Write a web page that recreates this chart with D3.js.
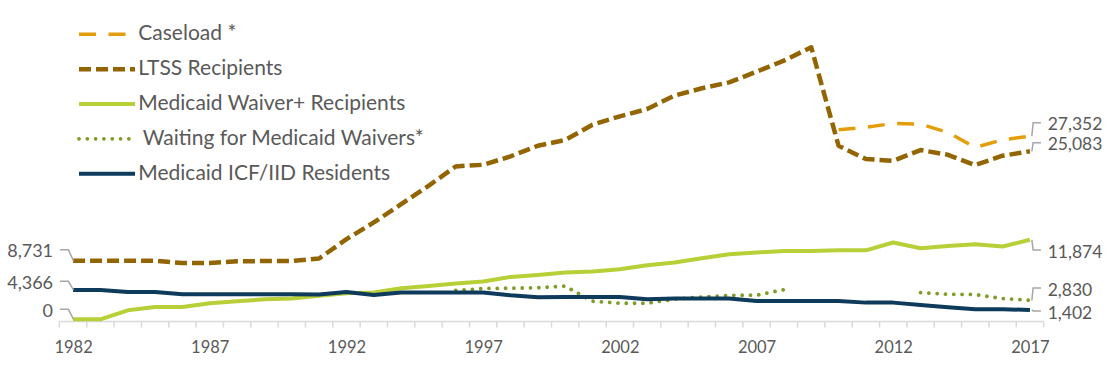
<!DOCTYPE html>
<html><head><meta charset="utf-8">
<script src="https://cdn.jsdelivr.net/npm/d3@7"></script>
<style>
body{margin:0;background:#fff}
svg{display:block}
text{font-family:Lato, "Open Sans", sans-serif; fill:#595959}
</style>
</head><body>
<svg id="c" width="1112" height="365"></svg>
<script>
// ---- data ----
const years = [1982,1983,1984,1985,1986,1987,1988,1989,1990,1991,1992,1993,1994,1995,1996,1997,1998,1999,2000,2001,2002,2003,2004,2005,2006,2007,2008,2009,2010,2011,2012,2013,2014,2015,2016,2017];
const tickYears = [1982,1987,1992,1997,2002,2007,2012,2017];
const caseload = [null,null,null,null,null,null,null,null,null,null,null,null,null,null,null,null,null,null,null,null,null,null,null,null,null,null,null,null,28300,28650,29250,29150,27900,25660,26800,27352];
const ltss = [8731,8731,8731,8731,8400,8400,8650,8700,8700,9075,11960,14460,17190,19930,22830,23070,24320,25910,26760,29050,30300,31400,33390,34490,35380,36970,38620,40620,25910,23920,23670,25270,24560,23020,24420,25083];
const waiver = [0,0,1345,1840,1840,2390,2690,2990,3090,3500,3890,3990,4630,4980,5330,5630,6330,6630,6980,7130,7475,8070,8470,9120,9720,9970,10210,10210,10300,10300,11460,10610,10960,11210,10860,11874];
const waiting = [null,null,null,null,null,null,null,null,null,null,null,null,null,null,4300,4590,4650,4700,4950,2700,2400,2400,3000,3330,3580,3600,4420,null,null,null,null,3990,3740,3700,3090,2830];
const icf = [4366,4366,4090,4090,3740,3740,3740,3740,3740,3690,4090,3640,3990,3990,3990,3990,3590,3290,3340,3340,3340,2990,3090,3090,3090,2740,2740,2740,2740,2490,2490,2140,1790,1490,1490,1402];
const seriesNames = ["Caseload *","LTSS Recipients","Medicaid Waiver+ Recipients","Waiting for Medicaid Waivers*","Medicaid ICF/IID Residents"];

// ---- styles ----
const series = [
  {name:seriesNames[0], values:caseload, color:"#E59E0B", width:3.5, dash:"17,12.5", cap:"butt", legendDx:0},
  {name:seriesNames[1], values:ltss, color:"#936500", width:4.5, dash:"12,5", cap:"butt", legendDx:0},
  {name:seriesNames[2], values:waiver, color:"#B8CF38", width:4, dash:null, cap:"butt", legendDx:0},
  {name:seriesNames[3], values:waiting, color:"#7E9C26", width:3.8, dash:"0.01,8.3", cap:"round", legendDx:4.5},
  {name:seriesNames[4], values:icf, color:"#0E3A5C", width:4, dash:null, cap:"butt", legendDx:0}
];

const svg = d3.select("#c");
svg.append("rect").attr("width",1112).attr("height",365).attr("fill","#fff");

const x = d3.scalePoint().domain(years).range([59.4,1043.6]).padding(0.5);
const xb = d3.scaleBand().domain(years).range([59.4,1043.6]);
const y = d3.scaleLinear().domain([0,40000]).range([319.3, 319.3-40000/149.3]);

// ---- axis ----
const axisY = 321.5;
const ag = svg.append("g").attr("transform",`translate(0,${axisY})`);
ag.append("line").attr("x1",xb.range()[0]).attr("x2",xb.range()[1])
  .attr("stroke","#D9D9D9").attr("stroke-width",1.5);
const bounds = years.map(d=>xb(d)).concat([xb.range()[1]]);
ag.selectAll("line.t").data(bounds).join("line").attr("class","t")
  .attr("x1",d=>d).attr("x2",d=>d).attr("y1",0).attr("y2",6)
  .attr("stroke","#D9D9D9").attr("stroke-width",1.5);
const lab = svg.append("g").attr("transform",`translate(0,${axisY})`)
  .call(d3.axisBottom(x).tickValues(tickYears).tickSize(0).tickPadding(20));
lab.select(".domain").remove();
lab.selectAll("text").style("font-family","Lato, sans-serif").style("font-size","16.5px").attr("fill","#595959");

// ---- lines ----
const line = d3.line().defined(d=>d.v!=null).x(d=>x(d.year)).y(d=>y(d.v));
series.forEach(s=>{
  const pts = years.map((yr,i)=>({year:yr, v:s.values[i]}));
  svg.append("path").datum(pts).attr("d",line)
    .attr("fill","none").attr("stroke",s.color).attr("stroke-width",s.width)
    .attr("stroke-dasharray",s.dash).attr("stroke-linecap",s.cap)
    .attr("stroke-linejoin","round");
});

// ---- data labels with leaders ----
const fmt = d3.format(",");
const leftLabels = [
  {vals:ltss, dy:-11},
  {vals:icf, dy:-8.7},
  {vals:waiver, dy:-10}
];
leftLabels.forEach(l=>{
  const v = l.vals[0], px = x(years[0]), py = y(v), ly = py + l.dy;
  svg.append("path").attr("d",`M${px+0.5},${py}L${px-4.7},${ly}L${px-13},${ly}`)
    .attr("fill","none").attr("stroke","#A6A6A6").attr("stroke-width",1.5);
  svg.append("text").attr("x",px-20).attr("y",ly+1).attr("dy","0.35em")
    .attr("text-anchor","end").style("font-size","18px").text(fmt(v));
});
const last = years.length-1;
const rightLabels = [
  {vals:caseload, dy:-13.3},
  {vals:ltss, dy:-8.5},
  {vals:waiver, dy:10.2},
  {vals:waiting, dy:-12.3},
  {vals:icf, dy:1}
];
rightLabels.forEach(l=>{
  const v = l.vals[last], px = x(years[last]), py = y(v), ly = py + l.dy;
  svg.append("path").attr("d",`M${px+1.9},${py}L${px+3.2},${ly}L${px+11},${ly}`)
    .attr("fill","none").attr("stroke","#A6A6A6").attr("stroke-width",1.5);
  svg.append("text").attr("x",px+17.7).attr("y",ly+1.5).attr("dy","0.35em")
    .style("font-size","17.5px").text(fmt(v));
});

// ---- legend ----
const lg = svg.append("g");
series.forEach((s,i)=>{
  const cy = 34.3 + i*34.85;
  lg.append("line").attr("x1",79).attr("x2",135).attr("y1",cy).attr("y2",cy)
    .attr("stroke",s.color).attr("stroke-width",s.width)
    .attr("stroke-dasharray",s.dash).attr("stroke-linecap",s.cap);
  lg.append("text").attr("x",138.3+s.legendDx).attr("y",cy-1.3).attr("dy","0.35em")
    .style("font-size","21px").text(s.name);
});
</script>
</body></html>
